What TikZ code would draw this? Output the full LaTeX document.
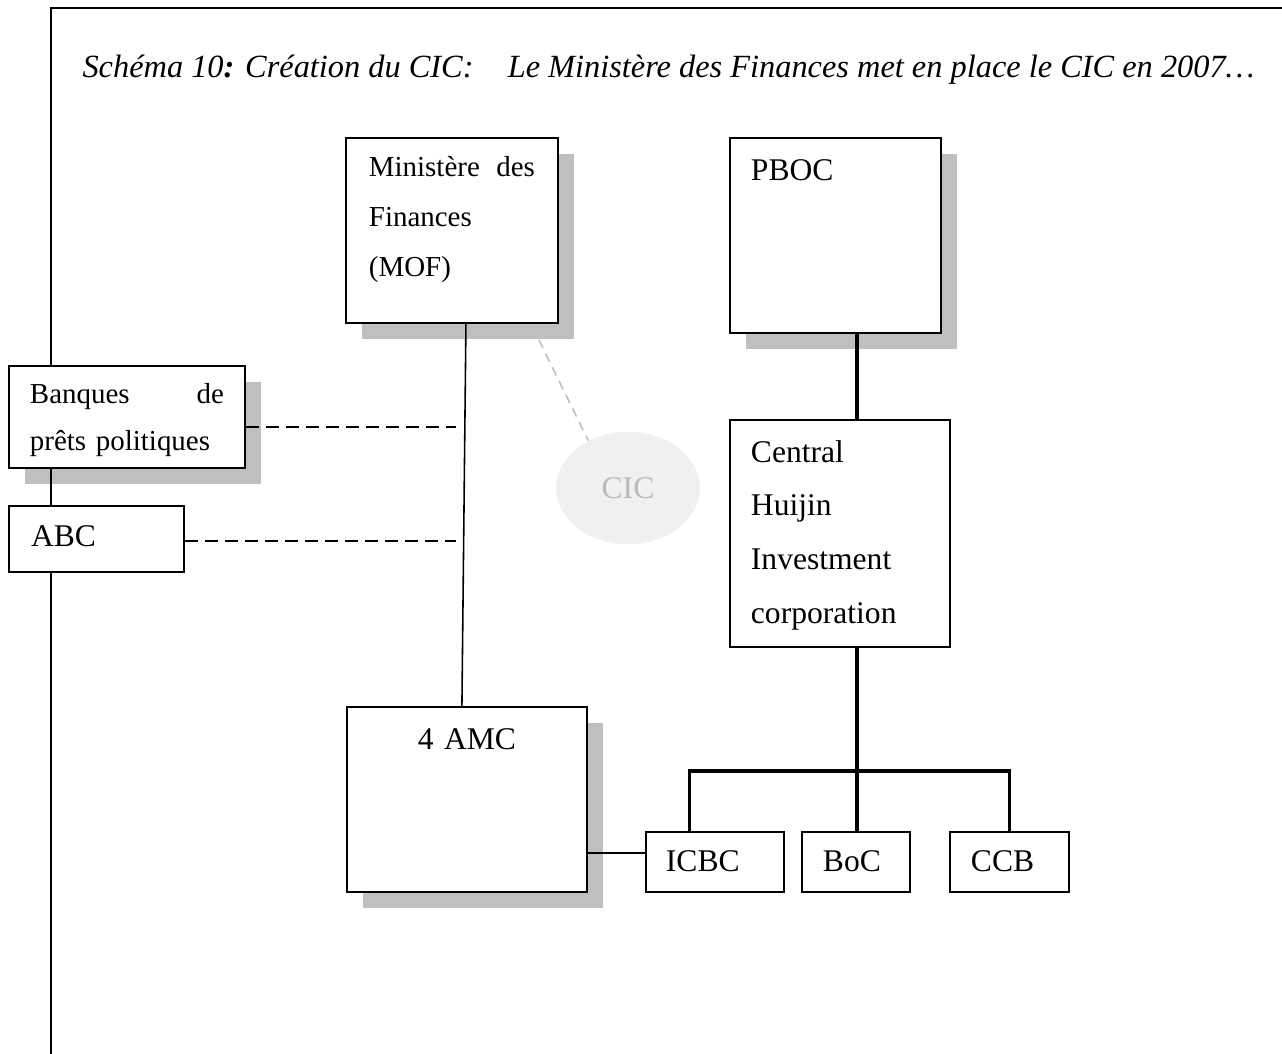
\documentclass[tikz,border=0pt]{standalone}
\usepackage{fontspec}
\setmainfont{Liberation Serif}
\usetikzlibrary{shadows,calc,shapes.geometric}

\begin{document}
\begin{tikzpicture}[x=0.38pt,y=-0.38pt,
    boite/.style={draw,line width=0.7pt,fill=white,anchor=north west,inner ysep=0pt,
      align=left,font=\fontsize{12pt}{20.5pt}\selectfont},
    ombre/.style={drop shadow={shadow xshift=6.1pt,shadow yshift=-6.1pt,fill=black!25,opacity=1}},
    banque/.style={boite,text height=15.2pt,text depth=7.6pt},
    cadre/.style={line width=0.85pt},
    trait/.style={line width=0.6pt},
    arbre/.style={line width=1.15pt},
    tirets/.style={line width=0.7pt,dash pattern=on 5pt off 2.6pt},
    gris/.style={line width=0.6pt,black!25,dash pattern=on 3.5pt off 2.3pt}]
    \useasboundingbox (0,0) rectangle (1282,1054) ;
    % Titre
    \node[anchor=base west,inner sep=0pt,font=\fontsize{12.3pt}{14pt}\selectfont\itshape] (titre) at (82,77)
      {Schéma 10\textbf{:} Création du CIC:} ;
    \node[anchor=base east,inner sep=0pt,font=\fontsize{12.3pt}{14pt}\selectfont\itshape] (soustitre) at (1255,77)
      {Le Ministère des Finances met en place le CIC en 2007…} ;
    % Boites avec ombre
    \node[boite,ombre,font=\fontsize{11pt}{19pt}\selectfont,inner xsep=8.74pt,text width=63.1pt,
      text height=14.8pt,text depth=55.5pt] (mof) at (345,137) {Ministère\hfill des\\Finances\\(MOF)} ;
    \node[boite,ombre,inner xsep=8pt,text width=64.2pt,text height=16pt,text depth=58.1pt] (pboc) at (729,137) {PBOC} ;
    \node[boite,ombre,align=center,inner xsep=7.6pt,text width=76pt,text height=16pt,text depth=54.3pt] (amc) at (346,706) {4 AMC} ;
    \node[boite,ombre,font=\fontsize{11pt}{18.2pt}\selectfont,inner xsep=8pt,text width=73.7pt,
      text height=14.1pt,text depth=24.7pt] (banq) at (8,365) {Banques\hfill de\\prêts politiques} ;
    % Boites sans ombre
    \node[boite,inner xsep=8pt,text width=67.6pt,text height=16pt,text depth=70.3pt] (huijin) at (729,419)
      {Central\\Huijin\\Investment\\corporation} ;
    \node[boite,inner xsep=8.4pt,text width=49.8pt,text height=15.6pt,text depth=9.5pt] (abc) at (8,505) {ABC} ;
    \node[banque,inner xsep=7.6pt,text width=37.2pt] (icbc) at (645,831) {ICBC} ;
    \node[banque,inner xsep=8pt,text width=25pt] (boc) at (801,831) {BoC} ;
    \node[banque,inner xsep=8pt,text width=29.3pt] (ccb) at (949,831) {CCB} ;
    % CIC
    \node[ellipse,fill=black!6,text=black!27,minimum width=54.7pt,minimum height=42.6pt,inner sep=0pt,
      font=\fontsize{12pt}{14pt}\selectfont] (cic) at (628,488) {CIC} ;
    % Liens MOF
    \draw[trait] ($(mof.south)+(14,0)$) -- ($(amc.north)+(-5,0)$) ;
    \coordinate (j1) at (456,427) ;
    \coordinate (j2) at (456,541) ;
    \draw[tirets] (banq.east |- j1) -- (j1) ;
    \draw[tirets] (abc.east |- j2) -- (j2) ;
    \draw[gris] ($(mof.south east)+(-20,16)$) -- (cic.130) ;
    % Arbre Huijin
    \coordinate (branche) at (857,771) ;
    \draw[arbre] (pboc.south -| branche) -- (huijin.north -| branche) ;
    \draw[arbre] (huijin.south -| branche) -- (boc.north -| branche) ;
    \draw[arbre] ([xshift=-9.5pt]icbc.north) |- (branche) -| (ccb.north) ;
    \draw[trait] ([yshift=3.4pt]icbc.west) -- ([yshift=3.4pt]icbc.west -| amc.east) ;
    % Cadre
    \coordinate (hg) at (51,8) ;
    \coordinate (bg) at (51,1054) ;
    \draw[cadre] (1282,8) -- (hg) -- (banq.north -| hg) ;
    \draw[cadre] (banq.south -| hg) -- (abc.north -| hg) ;
    \draw[cadre] (abc.south -| hg) -- (bg) ;
\end{tikzpicture}
\end{document}
